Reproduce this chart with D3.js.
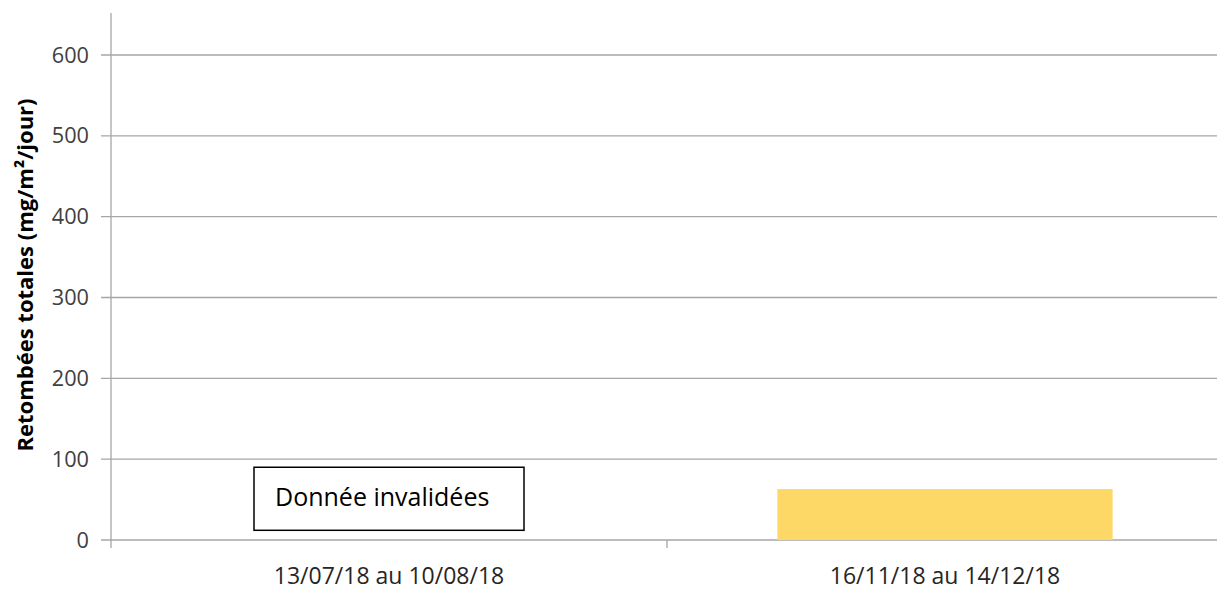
<!DOCTYPE html>
<html><head><meta charset="utf-8">
<script src="https://cdn.jsdelivr.net/npm/d3@7"></script>
<style>body{margin:0;background:#fff}svg{display:block}</style>
</head><body>
<svg id="c" width="1217" height="590"></svg>
<script>
const categories = ["13/07/18 au 10/08/18", "16/11/18 au 14/12/18"];
const values = [null, 63];
const yTicks = [0, 100, 200, 300, 400, 500, 600];
const yTitle = "Retombées totales (mg/m²/jour)";
const invalidNote = "Donnée invalidées";

const svg = d3.select("#c");
const m = {left: 111, right: 1223, top: 13, bottom: 540};
const x = d3.scaleBand().domain(categories).range([m.left, m.right]).padding(0);
const y = d3.scaleLinear().domain([0, 600]).range([540, 55]);
const font = "'Open Sans', sans-serif";

svg.append("g").selectAll("line").data(yTicks).join("line")
  .attr("x1", m.left - 10).attr("x2", 1217)
  .attr("y1", d => y(d)).attr("y2", d => y(d))
  .attr("stroke", "#a6a6a6").attr("stroke-width", 1.3);

svg.append("line").attr("x1", m.left).attr("x2", m.left).attr("y1", m.top).attr("y2", 548)
  .attr("stroke", "#a6a6a6").attr("stroke-width", 1.3);

const seps = [m.left + x.step(), m.left + 2 * x.step()];
svg.append("g").selectAll("line").data(seps).join("line")
  .attr("x1", d => d).attr("x2", d => d).attr("y1", y(0)).attr("y2", 548)
  .attr("stroke", "#a6a6a6").attr("stroke-width", 1.3);

svg.append("g").selectAll("text").data(yTicks).join("text")
  .attr("x", 89).attr("y", d => y(d)).attr("dy", "0.35em")
  .attr("text-anchor", "end").attr("font-family", font).attr("font-size", 21.7)
  .attr("fill", "#404040").text(d => d);

const bw = x.step() * 0.603;
svg.append("g").selectAll("rect").data(categories.map((c, i) => ({c, v: values[i]})).filter(d => d.v != null))
  .join("rect")
  .attr("x", d => x(d.c) + x.bandwidth() / 2 - bw / 2)
  .attr("width", bw)
  .attr("y", d => y(d.v)).attr("height", d => y(0) - y(d.v))
  .attr("fill", "#fdd866");

svg.append("g").selectAll("text").data(categories).join("text")
  .attr("x", d => x(d) + x.bandwidth() / 2).attr("y", 584)
  .attr("text-anchor", "middle")
  .attr("font-family", font).attr("font-size", 23).attr("fill", "#262626").text(d => d);

const invalid = categories.filter((c, i) => values[i] == null);
invalid.forEach(c => {
  const cx = x(c) + x.bandwidth() / 2;
  const g = svg.append("g");
  g.append("rect").attr("x", cx - 135).attr("y", y(90)).attr("width", 270).attr("height", y(12) - y(90))
    .attr("fill", "#fff").attr("stroke", "#000").attr("stroke-width", 1.5);
  g.append("text").attr("x", cx - 114).attr("y", y(53)).attr("dy", "0.35em")
    .attr("font-family", font).attr("font-size", 25).attr("fill", "#000").text(invalidNote);
});

svg.append("text").attr("transform", `translate(25,${(95 + 455) / 2}) rotate(-90)`)
  .attr("text-anchor", "middle").attr("dy", "0.35em")
  .attr("font-family", font).attr("font-size", 22).attr("font-weight", "bold")
  .attr("fill", "#000").text(yTitle);
</script>
</body></html>
